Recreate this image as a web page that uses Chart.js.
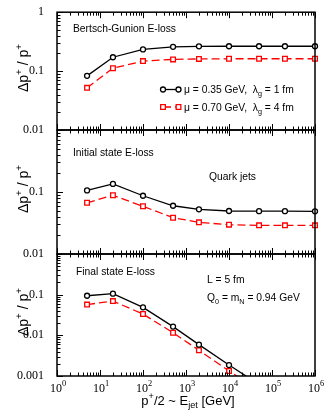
<!DOCTYPE html>
<html>
<head>
<meta charset="utf-8">
<script src="https://cdn.jsdelivr.net/npm/chart.js"></script>
<style>
  body { margin: 0; background: #fff; }
  #wrap { position: relative; width: 324px; height: 416px; }
  #wrap canvas { position: absolute; left: 0; }
</style>
</head>
<body>
<div id="wrap">
  <canvas id="bg" width="324" height="145" style="top:0px"></canvas>
  <canvas id="is" width="324" height="154" style="top:115px"></canvas>
  <canvas id="fs" width="324" height="177" style="top:239px"></canvas>
</div>
<script>
// jet energy (GeV) of the calculated points
const energies = [5, 20, 100, 500, 2000, 1e4, 5e4, 2e5, 1e6];

// Bertsch-Gunion E-loss
const bgMu035 = [0.083, 0.172, 0.233, 0.258, 0.263, 0.264, 0.264, 0.264, 0.264];
const bgMu070 = [0.052, 0.112, 0.148, 0.158, 0.161, 0.162, 0.162, 0.162, 0.162];
// Initial state E-loss
const isMu035 = [0.106, 0.135, 0.087, 0.060, 0.0526, 0.0494, 0.049, 0.049, 0.0488];
const isMu070 = [0.067, 0.0885, 0.0588, 0.0385, 0.0324, 0.0297, 0.029, 0.029, 0.029];
// Final state E-loss (drops below the axis after 10^4)
const fsMu035 = [0.094, 0.106, 0.0488, 0.0164, 0.0059, 0.00186, 0.00062, null, null];
const fsMu070 = [0.057, 0.0696, 0.0334, 0.0116, 0.0043, 0.00133, 0.00045, null, null];

const xTicks = [1, 10, 100, 1e3, 1e4, 1e5, 1e6];
const xExponents = ['0', '1', '2', '3', '4', '5', '6'];

const SANS = '"Liberation Sans", Arial, sans-serif';
const SERIF = '"Liberation Serif", "Times New Roman", serif';

Chart.defaults.color = '#000';

function minorValues(min, max) {
  const out = [];
  for (let d = min; d < max * 0.999; d *= 10) {
    for (let k = 2; k <= 9; k++) out.push(d * k);
  }
  return out;
}

// draws text made of normal / sub / sup pieces
function richText(ctx, parts, x, y, size, family, align) {
  const fontFor = m => (m === 'n' ? size : size * 0.7) + 'px ' + family;
  let w = 0;
  parts.forEach(([t, m]) => { ctx.font = fontFor(m); w += ctx.measureText(t).width; });
  let cx = align === 'center' ? x - w / 2 : x;
  ctx.textAlign = 'left';
  ctx.textBaseline = 'alphabetic';
  parts.forEach(([t, m]) => {
    ctx.font = fontFor(m);
    const dy = m === 'sub' ? size * 0.3 : (m === 'sup' ? -size * 0.45 : 0);
    ctx.fillText(t, cx, y + dy);
    cx += ctx.measureText(t).width;
  });
}

const yTitle = [['Δp', 'n'], ['+', 'sup'], [' / p', 'n'], ['+', 'sup']];

function panelPlugin(notes, withLegend, withXLabels) {
  return {
    id: 'panelFrame',
    afterDraw(chart) {
      const ctx = chart.ctx;
      const a = chart.chartArea;
      const x = chart.scales.x, y = chart.scales.y;
      ctx.save();
      ctx.strokeStyle = '#000';
      ctx.fillStyle = '#000';

      // inward ticks
      ctx.lineWidth = 1;
      ctx.beginPath();
      const xTick = (v, len) => {
        const px = Math.round(x.getPixelForValue(v)) + 0.5;
        ctx.moveTo(px, a.top); ctx.lineTo(px, a.top + len);
        ctx.moveTo(px, a.bottom); ctx.lineTo(px, a.bottom - len);
      };
      xTicks.forEach(v => xTick(v, 6));
      minorValues(1, 1e6).forEach(v => xTick(v, 3.5));
      const yTick = (v, len) => {
        const py = Math.round(y.getPixelForValue(v)) + 0.5;
        ctx.moveTo(a.left, py); ctx.lineTo(a.left + len, py);
      };
      y.ticks.forEach(t => yTick(t.value, 6));
      minorValues(y.min, y.max).forEach(v => yTick(v, 3.5));
      ctx.stroke();

      // frame
      ctx.lineWidth = 1.5;
      ctx.strokeRect(a.left, a.top, a.right - a.left, a.bottom - a.top);

      // y title
      ctx.save();
      ctx.translate(28, (a.top + a.bottom) / 2 - 3);
      ctx.rotate(-Math.PI / 2);
      richText(ctx, yTitle, 0, 0, 14, SANS, 'center');
      ctx.restore();

      // panel notes (canvas coords = page coords minus canvas top)
      const off = chart.canvas.offsetTop;
      notes.forEach(n => richText(ctx, n.parts, n.x, n.y - off, 10.3, SANS, 'left'));

      if (withLegend) {
        chart.data.datasets.forEach((ds, i) => {
          const ly = 89.5 + i * 17.5 - off;
          ctx.save();
          ctx.strokeStyle = ds.borderColor;
          ctx.lineWidth = ds.borderWidth;
          ctx.setLineDash(ds.borderDash || []);
          ctx.beginPath();
          ctx.moveTo(163, ly); ctx.lineTo(178.5, ly);
          ctx.stroke();
          ctx.setLineDash([]);
          ctx.lineWidth = ds.pointBorderWidth;
          [163, 178.5].forEach(px => {
            ctx.fillStyle = '#fff';
            ctx.beginPath();
            if (ds.pointStyle === 'rect') {
              const h = ds.pointRadius * Math.SQRT1_2;
              ctx.rect(px - h, ly - h, 2 * h, 2 * h);
            } else {
              ctx.arc(px, ly, ds.pointRadius, 0, Math.PI * 2);
            }
            ctx.fill();
            ctx.stroke();
          });
          ctx.restore();
          ctx.fillStyle = '#000';
          richText(ctx, ds.labelParts, 184, ly + 3.5, 10.3, SANS, 'left');
        });
      }

      if (withXLabels) {
        xTicks.forEach((v, i) => {
          const px = x.getPixelForValue(v);
          richText(ctx, [['10', 'n'], [xExponents[i], 'sup']], px + 1, a.bottom + 15.5, 12, SERIF, 'center');
        });
        richText(ctx, [['p', 'n'], ['+', 'sup'], ['/2 ~ E', 'n'], ['jet', 'sub'], [' [GeV]', 'n']],
          188, a.bottom + 28.5, 13, SANS, 'center');
      }
      ctx.restore();
    }
  };
}

function makePanel(id, s1, s2, yMin, yTickVals, yShown, pad, notes, withLegend, withXLabels) {
  const pts = s => energies.map((e, i) => ({ x: e, y: s[i] }));
  return new Chart(document.getElementById(id), {
    type: 'line',
    data: {
      datasets: [
        {
          data: pts(s1),
          labelParts: [['μ = 0.35 GeV,  λ', 'n'], ['g', 'sub'], [' = 1 fm', 'n']],
          borderColor: '#000000',
          borderWidth: 1.3,
          pointStyle: 'circle',
          pointRadius: 2.5,
          pointBorderWidth: 1.3,
          pointBorderColor: '#000000',
          pointBackgroundColor: '#ffffff',
          clip: { left: 6, top: 6, right: 6, bottom: 0 }
        },
        {
          data: pts(s2),
          labelParts: [['μ = 0.70 GeV,  λ', 'n'], ['g', 'sub'], [' = 4 fm', 'n']],
          borderColor: '#ff0000',
          borderWidth: 1.3,
          borderDash: [8, 4],
          pointStyle: 'rect',
          pointRadius: 3.3,
          pointBorderWidth: 1.3,
          pointBorderColor: '#ff0000',
          pointBackgroundColor: '#ffffff',
          clip: { left: 6, top: 6, right: 6, bottom: 0 }
        }
      ]
    },
    options: {
      responsive: false,
      animation: false,
      events: [],
      layout: { padding: pad },
      plugins: { legend: { display: false }, tooltip: { enabled: false } },
      scales: {
        x: { type: 'logarithmic', min: 1, max: 1e6, display: false },
        y: {
          type: 'logarithmic',
          min: yMin,
          max: 1,
          afterFit: s => { s.width = 57; },
          afterBuildTicks: s => { s.ticks = yTickVals.map(v => ({ value: v })); },
          grid: { display: false },
          border: { display: false },
          ticks: {
            padding: 5,
            font: { family: SERIF, size: 12 },
            color: '#000',
            callback: v => yShown.includes(v) ? String(v) : ''
          }
        }
      }
    },
    plugins: [panelPlugin(notes, withLegend, withXLabels)]
  });
}

makePanel('bg', bgMu035, bgMu070, 0.01, [0.01, 0.1, 1], [0.01, 0.1, 1],
  { top: 9, bottom: 15, left: 0, right: 9 },
  [{ parts: [['Bertsch-Gunion E-loss', 'n']], x: 73, y: 31.5 }],
  true, false);

makePanel('is', isMu035, isMu070, 0.01, [0.01, 0.1, 1], [0.01, 0.1],
  { top: 15, bottom: 15, left: 0, right: 9 },
  [{ parts: [['Initial state E-loss', 'n']], x: 73, y: 155.5 },
   { parts: [['Quark jets', 'n']], x: 209, y: 180 }],
  false, false);

makePanel('fs', fsMu035, fsMu070, 0.001, [0.001, 0.01, 0.1, 1], [0.001, 0.01, 0.1],
  { top: 15, bottom: 40, left: 0, right: 9 },
  [{ parts: [['Final state E-loss', 'n']], x: 76, y: 275 },
   { parts: [['L = 5 fm', 'n']], x: 207, y: 282.5 },
   { parts: [['Q', 'n'], ['0', 'sub'], [' = m', 'n'], ['N', 'sub'], [' = 0.94 GeV', 'n']], x: 207, y: 300.5 }],
  false, true);
</script>
</body>
</html>
